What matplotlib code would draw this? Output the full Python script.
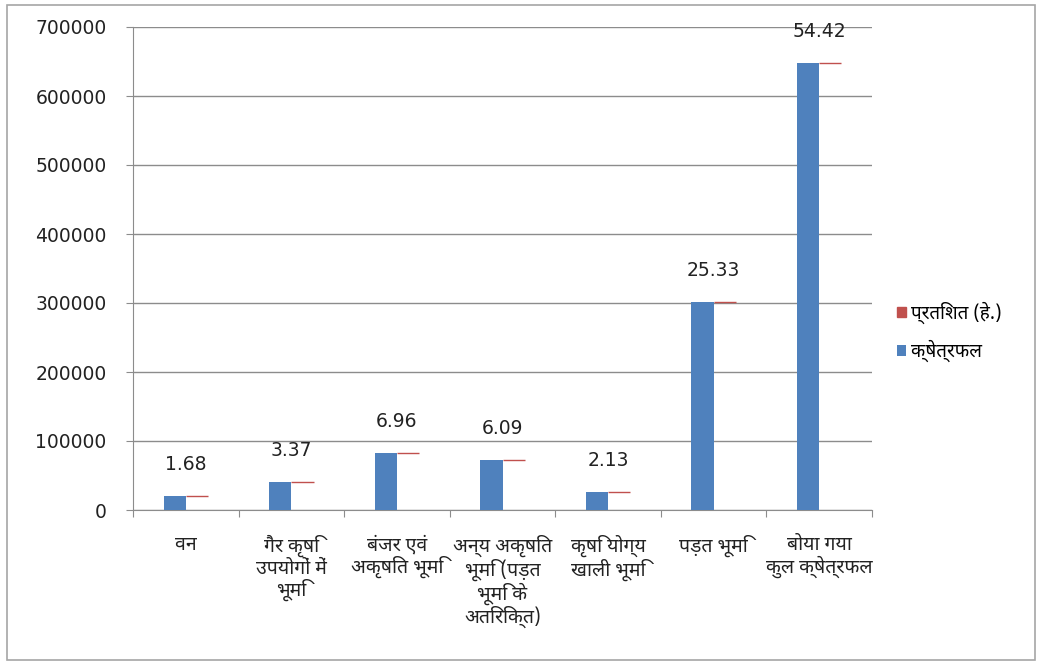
import os
import matplotlib
matplotlib.use("Agg")
import matplotlib.pyplot as plt
from matplotlib import font_manager
from matplotlib.patches import Rectangle

categories = ["वन", "गैर कृषि\nउपयोगों में\nभूमि", "बंजर एवं\nअकृषित भूमि",
              "अन्य अकृषित\nभूमि (पड़त\nभूमि के\nअतिरिक्त)", "कृषि योग्य\nखाली भूमि",
              "पड़त भूमि", "बोया गया\nकुल क्षेत्रफल"]
area = [20000, 40100, 82900, 72500, 25400, 301700, 648100]
percent = [1.68, 3.37, 6.96, 6.09, 2.13, 25.33, 54.42]
yticks = [0, 100000, 200000, 300000, 400000, 500000, 600000, 700000]

# Devanagari font (DejaVu has none)
deva = 'DejaVu Sans'
for f in font_manager.findSystemFonts():
    if os.path.basename(f) == 'NotoSansDevanagariUI-Regular.ttf':
        font_manager.fontManager.addfont(f)
        deva = font_manager.FontProperties(fname=f).get_name()
        break
plt.rcParams['font.family'] = ['DejaVu Sans', deva]
hindi = [deva, 'DejaVu Sans']

fig = plt.figure(figsize=(10.4, 6.63), dpi=100)
ax = fig.add_axes([133/1040, 1 - 510/663, (872-133)/1040, (510-27)/663])
fig.patches.append(Rectangle((7/1040, 3/663), 1028/1040, 655/663, transform=fig.transFigure,
                             fill=False, edgecolor='#A6A6A6', linewidth=1.2))

x = list(range(len(categories)))
w = 0.21
ax.bar([i - w/2 for i in x], area, width=w, color='#4F81BD', label='क्षेत्रफल', zorder=3)
ax.bar([i + w/2 for i in x], percent, bottom=area, width=w, color='#C0504D',
       edgecolor='#C0504D', linewidth=1, label='प्रतिशत (हे.)', zorder=3)
for i in x:
    ax.annotate(f"{percent[i]:.2f}", (i, area[i]), xytext=(0, 16), textcoords='offset points',
                ha='center', va='bottom', fontsize=13.5, color='#222222')

ax.set_ylim(0, 700000)
ax.set_xlim(-0.5, len(categories) - 0.5)
ax.set_yticks(yticks)
ax.set_yticklabels([str(v) for v in yticks], fontsize=13.5, color='#222222')
ax.grid(axis='y', color='#8C8C8C', linewidth=1, zorder=0)
ax.set_xticks([i + 0.5 for i in range(-1, len(categories))])
ax.set_xticklabels([])
ax.tick_params(axis='x', length=5, color='#8C8C8C')
ax.tick_params(axis='y', length=5, color='#8C8C8C', pad=14)
for i, c in enumerate(categories):
    ax.text(i, -0.052, c, transform=ax.get_xaxis_transform(), ha='center', va='top',
            fontsize=14, linespacing=1.08, color='#222222', family=hindi)
for s in ['top', 'right']:
    ax.spines[s].set_visible(False)
for s in ['left', 'bottom']:
    ax.spines[s].set_color('#8C8C8C')

h, l = ax.get_legend_handles_labels()
fig.legend(h[::-1], l[::-1], loc='center left', bbox_to_anchor=(880/1040, 1 - 332/663),
           frameon=False, prop={'family': hindi, 'size': 13.5}, handlelength=0.5,
           handleheight=0.5, handletextpad=0.25, labelspacing=0.85)

fig.savefig("out.png", dpi=100)
